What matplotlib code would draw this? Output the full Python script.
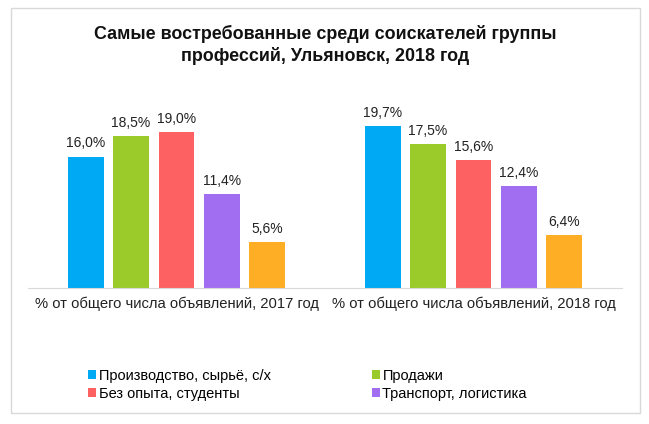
import matplotlib.pyplot as plt
from matplotlib.patches import Rectangle
import numpy as np

plt.rcParams['font.family'] = ['Liberation Sans', 'DejaVu Sans']

groups = ["% от общего числа объявлений, 2017 год",
          "% от общего числа объявлений, 2018 год"]
series_names = ["Производство, сырьё, с/х", "Продажи",
                "Без опыта, студенты", "Транспорт, логистика", None]
values_2017 = [16.0, 18.5, 19.0, 11.4, 5.6]
values_2018 = [19.7, 17.5, 15.6, 12.4, 6.4]
colors = ["#00A9F4", "#9BCB2B", "#FE6161", "#A16DF1", "#FDAE24"]

fig = plt.figure(figsize=(6.49, 4.24), dpi=100)
W, H = 649, 424

# light frame around the whole chart
fig.patches.append(Rectangle((11 / W, 1 - 413 / H), 629 / W, 405 / H,
                             transform=fig.transFigure, fill=False,
                             edgecolor="#d9d9d9", linewidth=1))

ax = fig.add_axes([28 / W, 1 - 288 / H, 594 / W, 189 / H])

x = np.arange(len(groups))
step = 0.153
width = 0.121
handles = []
for i, name in enumerate(series_names):
    vals = [values_2017[i], values_2018[i]]
    bars = ax.bar(x + (i - 2) * step, vals, width, color=colors[i])
    if name:
        handles.append((bars, name))
    for b, v in zip(bars, vals):
        ax.annotate(f"{v:.1f}%".replace(".", ","),
                    (b.get_x() + b.get_width() / 2, v),
                    xytext=(0, 4.5), textcoords="offset points",
                    ha="center", va="bottom", fontsize=10, color="#222222")

ax.set_xlim(-0.5, 1.5)
ax.set_ylim(0, 23)
ax.set_xticks(x)
ax.set_xticklabels(groups, fontsize=10.6, color="#222222")
ax.tick_params(axis="x", length=0, pad=6.5)
ax.set_yticks([])
for s in ["top", "left", "right"]:
    ax.spines[s].set_visible(False)
ax.spines["bottom"].set_color("#d9d9d9")

fig.text(325 / W, 1 - 25 / H,
         "Самые востребованные среди соискателей группы\nпрофессий, Ульяновск, 2018 год",
         ha="center", va="top", fontsize=12.9, fontweight="bold",
         linespacing=1.25, color="#111111")

# legend filled row by row, like the original
order = [0, 2, 1, 3]
fig.legend([handles[k][0] for k in order], [handles[k][1] for k in order],
           ncol=2, loc="upper left", bbox_to_anchor=(88 / W, 1 - 369 / H),
           frameon=False, fontsize=10.5, handlelength=0.55, handleheight=0.55,
           handletextpad=0.2, labelspacing=0.25, columnspacing=6.9,
           borderpad=0, borderaxespad=0)

fig.savefig("out.png", dpi=100)
